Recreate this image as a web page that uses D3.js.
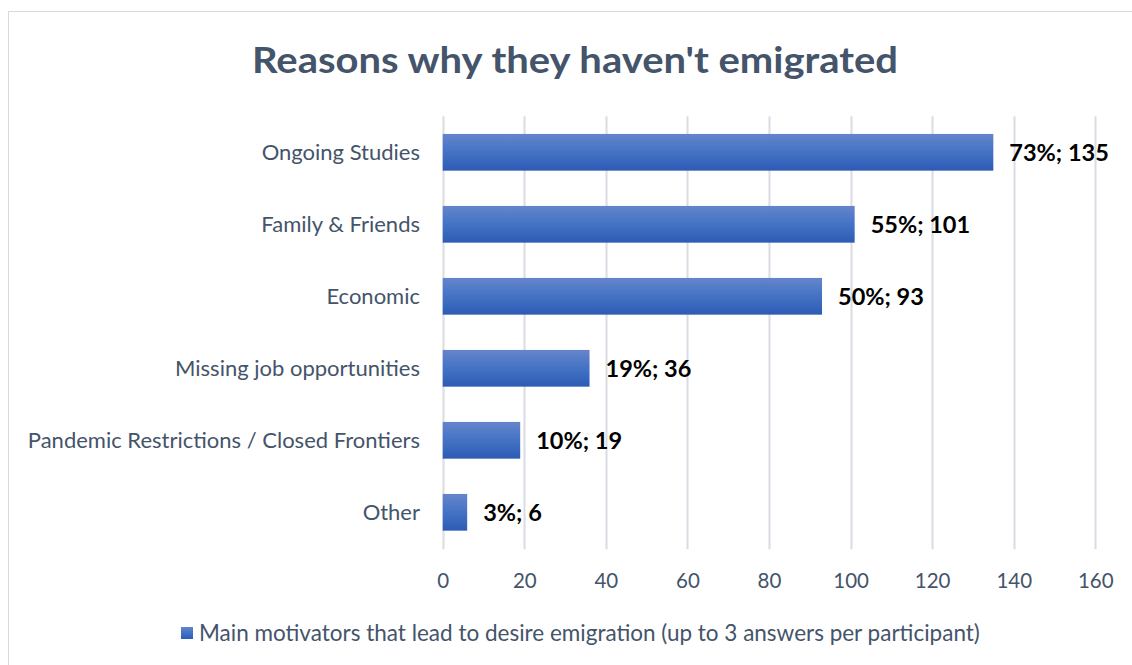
<!DOCTYPE html>
<html>
<head>
<meta charset="utf-8">
<script src="https://cdn.jsdelivr.net/npm/d3@7"></script>
<style>
  html, body { margin: 0; padding: 0; background: #ffffff; }
  svg { display: block; }
</style>
</head>
<body>
<svg id="chart" width="1132" height="665"></svg>
<script>
// Reasons given for not having emigrated (count of answers, share of participants)
const categories = [
  "Ongoing Studies",
  "Family & Friends",
  "Economic",
  "Missing job opportunities",
  "Pandemic Restrictions / Closed Frontiers",
  "Other"
];
const counts = [135, 101, 93, 36, 19, 6];
const percents = [73, 55, 50, 19, 10, 3];
const xTicks = [0, 20, 40, 60, 80, 100, 120, 140, 160];
const titleText = "Reasons why they haven't emigrated";
const legendText = "Main motivators that lead to desire emigration (up to 3 answers per participant)";

const rows = categories.map((c, i) => ({ category: c, count: counts[i], pct: percents[i] }));

const svg = d3.select("#chart");
const W = 1132, H = 665;
const FONT = "Lato, 'Open Sans', sans-serif";
const TEXT = "#44546A";

// chart frame
svg.append("rect")
  .attr("x", 8.5).attr("y", 11.5)
  .attr("width", W + 10).attr("height", H + 10)
  .attr("fill", "#ffffff")
  .attr("stroke", "#D9D9D9").attr("stroke-width", 1);

// bar fill gradient
const defs = svg.append("defs");
const grad = defs.append("linearGradient")
  .attr("id", "barFill").attr("x1", 0).attr("y1", 0).attr("x2", 0).attr("y2", 1);
grad.append("stop").attr("offset", "0%").attr("stop-color", "#6485CD");
grad.append("stop").attr("offset", "50%").attr("stop-color", "#4472C4");
grad.append("stop").attr("offset", "100%").attr("stop-color", "#2C5BB5");

const plot = { left: 442.7, right: 1095.3, top: 116.3, bottom: 548.3 };

const x = d3.scaleLinear().domain([0, 160]).range([plot.left, plot.right]);
const y = d3.scaleBand().domain(categories).range([plot.top, plot.bottom])
  .paddingInner(0.49).paddingOuter(0.245);

// title
svg.append("text")
  .attr("x", 575).attr("y", 72.7)
  .attr("text-anchor", "middle")
  .attr("font-family", FONT).attr("font-weight", 700)
  .attr("font-size", 37)
  .attr("fill", TEXT)
  .attr("textLength", 646).attr("lengthAdjust", "spacingAndGlyphs")
  .text(titleText);

// vertical gridlines
svg.append("g")
  .selectAll("line")
  .data(xTicks)
  .join("line")
  .attr("x1", d => Math.round(x(d)) + 0.5).attr("x2", d => Math.round(x(d)) + 0.5)
  .attr("y1", plot.top).attr("y2", plot.bottom + 1)
  .attr("stroke", "#D9DCE3").attr("stroke-width", 2);

// x axis tick labels
const xAxis = d3.axisBottom(x).tickValues(xTicks).tickSize(0).tickPadding(0);
const gx = svg.append("g")
  .attr("transform", `translate(0, ${plot.bottom})`)
  .call(xAxis);
gx.select(".domain").remove();
gx.selectAll("text")
  .attr("y", 40).attr("dy", null)
  .attr("font-family", FONT).attr("font-size", 20.5)
  .attr("fill", TEXT);

// category labels
const yAxis = d3.axisLeft(y).tickSize(0).tickPadding(0);
const gy = svg.append("g")
  .attr("transform", `translate(${420}, 0)`)
  .call(yAxis);
gy.select(".domain").remove();
gy.selectAll("text")
  .attr("x", 0).attr("dy", "0.37em")
  .attr("font-family", FONT).attr("font-size", 22)
  .attr("fill", TEXT);

// bars
svg.append("g")
  .selectAll("rect")
  .data(rows)
  .join("rect")
  .attr("x", x(0))
  .attr("y", d => y(d.category))
  .attr("width", d => x(d.count) - x(0))
  .attr("height", y.bandwidth())
  .attr("fill", "url(#barFill)");

// value labels
svg.append("g")
  .selectAll("text")
  .data(rows)
  .join("text")
  .attr("x", d => x(d.count) + 16)
  .attr("y", d => y(d.category) + y.bandwidth() / 2)
  .attr("dy", "0.38em")
  .attr("font-family", FONT).attr("font-weight", 700)
  .attr("font-size", 23.5)
  .attr("fill", "#000000")
  .text(d => `${d.pct}%; ${d.count}`);

// legend
const legend = svg.append("g");
legend.append("rect")
  .attr("x", 181).attr("y", 627)
  .attr("width", 12).attr("height", 12)
  .attr("fill", "url(#barFill)");
legend.append("text")
  .attr("x", 199).attr("y", 640.5)
  .attr("font-family", FONT).attr("font-size", 22.5)
  .attr("fill", TEXT)
  .text(legendText);
</script>
</body>
</html>
